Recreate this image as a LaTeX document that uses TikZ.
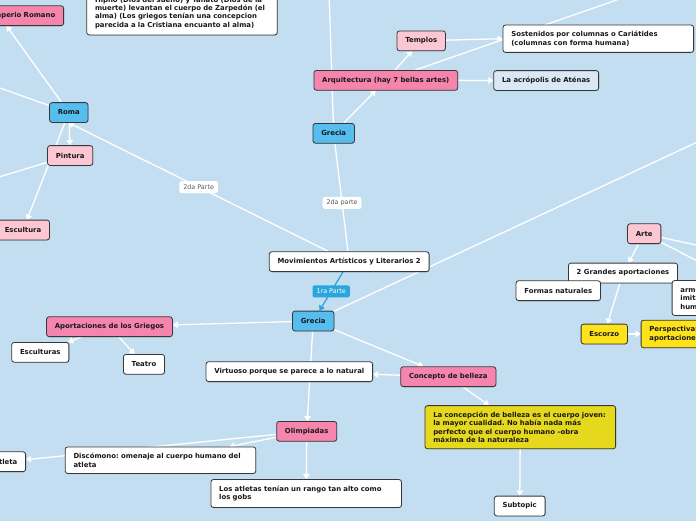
\documentclass[tikz,border=0pt]{standalone}
\usepackage{fontspec}
\setmainfont{DejaVu Sans}
\usepackage{tikz}
\usetikzlibrary{arrows.meta}
\usetikzlibrary{shadows}
\definecolor{bgblue}{RGB}{195,222,240}
\definecolor{nodeblue}{RGB}{85,190,238}
\definecolor{rose}{RGB}{245,133,173}
\definecolor{lightrose}{RGB}{252,198,211}
\definecolor{paleblue}{RGB}{218,232,245}
\definecolor{mustard}{RGB}{230,216,28}
\definecolor{sun}{RGB}{255,227,26}
\definecolor{linkblue}{RGB}{42,166,223}
\definecolor{frame}{RGB}{55,55,55}
\pgfdeclarelayer{background}
\pgfsetlayers{background,main}
\frenchspacing

\begin{document}
\begin{tikzpicture}[x=1pt,y=-1pt,
	box/.style={draw=frame, line width=0.8pt, rounded corners=2.5pt, inner xsep=8.3pt, inner ysep=6.3pt, minimum height=19.8pt, font=\bfseries\fontsize{6.9}{8.3}\selectfont, text=black!90, drop shadow={shadow xshift=0.5pt, shadow yshift=-0.7pt, opacity=0.3}},
	blue node/.style={box, fill=nodeblue},
	rose node/.style={box, fill=rose},
	pink node/.style={box, fill=lightrose},
	white node/.style={box, fill=white},
	pale node/.style={box, fill=paleblue},
	sun node/.style={box, fill=sun},
	note node/.style={white node, text width=174pt, align=left},
	label node/.style={fill=white, rounded corners=1.5pt, inner xsep=3.8pt, inner ysep=0pt, minimum height=12pt, font=\fontsize{6.4}{7}\selectfont, text=black!65}]
	
	\useasboundingbox (0,0) rectangle (696,520);
	
	\node[rose node, text width=112pt, align=right, anchor=east] (imp) at (64,15.7) {Imperio Romano};
	\node[note node, anchor=south] (hip) at (182,35.3) {Hipno (Dios del sueño) y Tánato (Dios de la\\muerte) levantan el cuerpo de Zarpedón (el\\alma) (Los griegos tenían una concepcion\\parecida a la Cristiana encuanto al alma)};
	\node[blue node] (roma) at (68.8,112.5) {Roma};
	\node[pink node] (pint) at (70.2,155.5) {Pintura};
	\node[pink node] (escu) at (23,230) {Escultura};
	
	\node[blue node] (grt) at (333.7,133.3) {Grecia};
	\node[rose node] (arq) at (385.8,80.3) {Arquitectura (hay 7 bellas artes)};
	\node[pink node] (temp) at (421.2,40.8) {Templos};
	\node[note node] (sost) at (598.3,38.7) {Sostenidos por columnas o Cariátides\\(columnas con forma humana)};
	\node[pale node] (acro) at (546.2,80.5) {La acrópolis de Aténas};
	
	\node[white node] (mov) at (349.2,261.7) {Movimientos Artísticos y Literarios 2};
	\node[blue node] (grb) at (313.2,321) {Grecia};
	\node[rose node] (apor) at (109.5,326.7) {Aportaciones de los Griegos};
	\node[white node] (escus) at (40.3,352.3) {Esculturas};
	\node[white node] (teat) at (144,364.3) {Teatro};
	\node[white node] (virt) at (289.3,371.7) {Virtuoso porque se parece a lo natural};
	\node[rose node] (conc) at (448.3,376.7) {Concepto de belleza};
	\node[rose node] (olim) at (306.7,431.3) {Olimpiadas};
	\node[box, fill=mustard, text width=174pt, align=left] (cbel) at (520.3,427.2) {La concepción de belleza es el cuerpo joven:\\la mayor cualidad. No había nada más\\perfecto que el cuerpo humano –obra\\máxima de la naturaleza};
	\node[note node] (disc) at (160.5,460.2) {Discómono: omenaje al cuerpo humano del\\atleta};
	\node[white node, anchor=east] (atl) at (26,461.7) {Atleta};
	\node[note node] (atle) at (306.2,493.5) {Los atletas tenían un rango tan alto como\\los gobs};
	\node[white node] (subt) at (519.7,506) {Subtopic};
	
	\node[pink node] (arte) at (644.2,233.7) {Arte};
	\node[white node] (gran) at (623,273) {2 Grandes aportaciones};
	\node[white node] (form) at (558.3,290.7) {Formas naturales};
	\node[note node, anchor=west] (armo) at (671.7,298) {armonía\\imitación\\humana};
	\node[sun node] (esco) at (604.3,334) {Escorzo};
	\node[sun node, text width=174pt, align=left, anchor=west] (pers) at (640.7,334) {Perspectiva:\\aportaciones};
	
	\coordinate (wr) at (-20,80.9);
	\coordinate (wp) at (-20,182.7);
	\coordinate (ng) at (328.6,-20);
	\coordinate (na) at (675,-20.3);
	\coordinate (eg) at (720,131.5);
	\coordinate (ea) at (720,250.2);
	\coordinate (eb) at (720,272.5);
	
	\begin{pgfonlayer}{background}
		\fill[bgblue] (-10,-10) rectangle (706,530);
		\path[-{Triangle[width=6.5pt,length=5pt]}, color=white, line width=1.3pt]
		(roma)
		edge (imp)
		edge (wr)
		edge (pint)
		edge (escu)
		
		(pint) edge (wp)
		
		(mov)
		edge node[label node] {2da Parte} (roma.south)
		edge[-] node[label node, pos=0.45] {2da parte} (grt)
		edge[color=linkblue] node[label node, fill=linkblue, text=white, inner xsep=4pt] {1ra Parte} (grb)
		
		(grt)
		edge (ng)
		edge (arq)
		
		(arq)
		edge (temp)
		edge (na)
		edge (acro)
		
		(temp) edge (sost.west)
		
		(grb)
		edge (apor)
		edge (eg)
		edge (conc)
		edge (olim)
		
		(apor)
		edge (escus)
		edge (teat)
		
		(conc)
		edge (virt)
		edge (cbel)
		
		(cbel) edge (subt)
		
		(olim)
		edge (atl)
		edge (disc)
		edge (atle)
		
		(arte)
		edge (gran)
		edge (ea)
		edge (eb)
		
		(gran) edge (esco)
		
		(esco) edge (pers);
	\end{pgfonlayer}
	
\end{tikzpicture}
\end{document}
